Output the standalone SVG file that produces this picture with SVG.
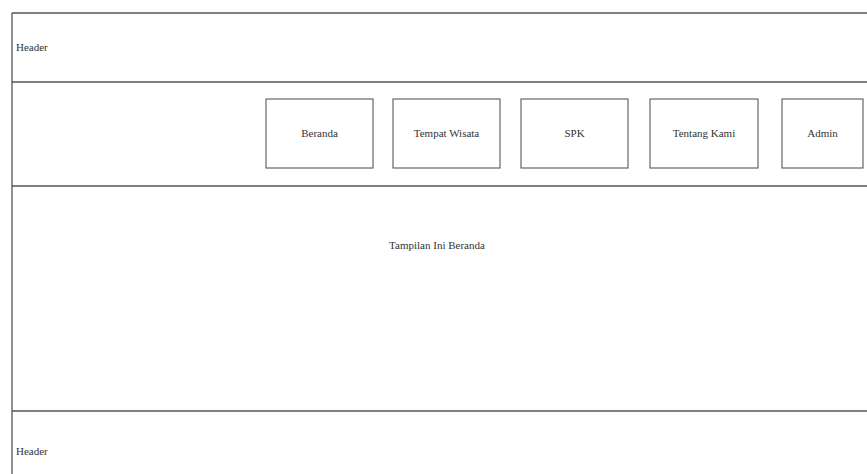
<svg xmlns="http://www.w3.org/2000/svg" width="867" height="474" viewBox="0 0 867 474">
<style>
.ln{stroke:#555;stroke-width:1.3;fill:none}
.bx{fill:#fff;stroke:#666;stroke-width:1.2}
.t{font-family:"Liberation Serif",serif;font-size:11px;fill:#333}
.c{text-anchor:middle}
</style>
<rect width="867" height="474" fill="#fff"/>
<g id="frame">
<line class="ln" x1="12" y1="13" x2="867" y2="13"/>
<line class="ln" x1="12" y1="13" x2="12" y2="474"/>
<line class="ln" x1="12" y1="82" x2="867" y2="82"/>
<line class="ln" x1="12" y1="186" x2="867" y2="186"/>
<line class="ln" x1="12" y1="411" x2="867" y2="411"/>
</g>
<g id="header"><text class="t" x="16" y="51">Header</text></g>
<g id="beranda"><rect class="bx" x="266" y="99" width="107" height="69"/><text class="t c" x="319.5" y="137">Beranda</text></g>
<g id="tempat-wisata"><rect class="bx" x="393" y="99" width="107" height="69"/><text class="t c" x="446.5" y="137">Tempat Wisata</text></g>
<g id="spk"><rect class="bx" x="521" y="99" width="107" height="69"/><text class="t c" x="574.5" y="137">SPK</text></g>
<g id="tentang-kami"><rect class="bx" x="650" y="99" width="108" height="69"/><text class="t c" x="704" y="137">Tentang Kami</text></g>
<g id="admin"><rect class="bx" x="782" y="99" width="81" height="69"/><text class="t c" x="822.5" y="137">Admin</text></g>
<g id="content"><text class="t c" x="437" y="249">Tampilan Ini Beranda</text></g>
<g id="footer"><text class="t" x="16" y="455">Header</text></g>
<g id="connectors"></g>
</svg>
